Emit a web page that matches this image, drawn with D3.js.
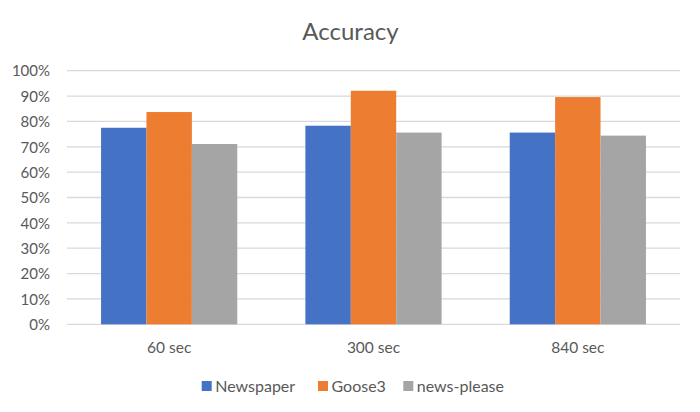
<!DOCTYPE html>
<html><head><meta charset="utf-8">
<script src="https://cdn.jsdelivr.net/npm/d3@7"></script>
<style>
html,body{margin:0;padding:0;background:#fff;}
text{font-family:Lato,"Open Sans",sans-serif;fill:#595959;}
</style></head>
<body>
<svg id="chart" width="700" height="412"></svg>
<script>
const categories = ["60 sec", "300 sec", "840 sec"];
const seriesNames = ["Newspaper", "Goose3", "news-please"];
const newspaper = [0.775, 0.783, 0.756];
const goose3 = [0.837, 0.921, 0.896];
const newsPlease = [0.711, 0.756, 0.744];
const yTicks = [0, 0.1, 0.2, 0.3, 0.4, 0.5, 0.6, 0.7, 0.8, 0.9, 1.0];
const colors = ["#4472C4", "#ED7D31", "#A5A5A5"];
const title = "Accuracy";

const seriesValues = [newspaper, goose3, newsPlease];
const svg = d3.select("#chart");
const mLeft = 67, mRight = 680, mTop = 70.7, mBottom = 324.3;

const x0 = d3.scaleBand().domain(categories).range([mLeft, mRight]).paddingInner(0).paddingOuter(0);
const groupW = x0.bandwidth() / 1.5;
const x1 = d3.scaleBand().domain(seriesNames).range([0, groupW]);
const y = d3.scaleLinear().domain([0, 1]).range([mBottom, mTop]);

// gridlines
svg.append("g").selectAll("line").data(yTicks).join("line")
  .attr("x1", mLeft).attr("x2", mRight)
  .attr("y1", d => y(d)).attr("y2", d => y(d))
  .attr("stroke", "#D9D9D9").attr("stroke-width", 1.3);

// y labels
const yAxis = d3.axisLeft(y).tickValues(yTicks).tickFormat(d3.format(".0%")).tickSize(0).tickPadding(0);
const ya = svg.append("g").attr("transform", `translate(${mLeft - 17},0)`).call(yAxis);
ya.select(".domain").remove();
ya.selectAll("text").style("font-size", "15px").style("font-family", "Lato, sans-serif").attr("fill", "#595959").attr("dy", "0.35em");

// bars
const groups = svg.append("g").selectAll("g").data(categories).join("g")
  .attr("transform", d => `translate(${x0(d) + (x0.bandwidth() - groupW) / 2},0)`);
groups.selectAll("rect").data((c, i) => seriesNames.map((s, j) => ({s, j, v: seriesValues[j][i]})))
  .join("rect")
  .attr("x", d => x1(d.s)).attr("width", x1.bandwidth())
  .attr("y", d => y(d.v)).attr("height", d => y(0) - y(d.v))
  .attr("fill", d => colors[d.j]);

// x labels
const xAxis = d3.axisBottom(x0).tickSize(0).tickPadding(0);
const xa = svg.append("g").attr("transform", `translate(0,${mBottom + 18})`).call(xAxis);
xa.select(".domain").remove();
xa.selectAll("text").style("font-size", "15.5px").style("font-family", "Lato, sans-serif").attr("fill", "#595959");

// title
svg.append("text").attr("x", (mLeft + mRight) / 2 - 23).attr("y", 39.5).attr("text-anchor", "middle")
  .style("font-size", "24px").text(title);

// legend
const legendX = [201.7, 318, 403.3];
const lg = svg.append("g").selectAll("g").data(seriesNames).join("g")
  .attr("transform", (d, i) => `translate(${legendX[i]},391.5)`);
lg.append("rect").attr("x", 0).attr("y", -10.5).attr("width", 10).attr("height", 10)
  .attr("fill", (d, i) => colors[i]);
lg.append("text").attr("x", 13.5).attr("y", 0).style("font-size", "16px").text(d => d);
</script>
</body></html>
